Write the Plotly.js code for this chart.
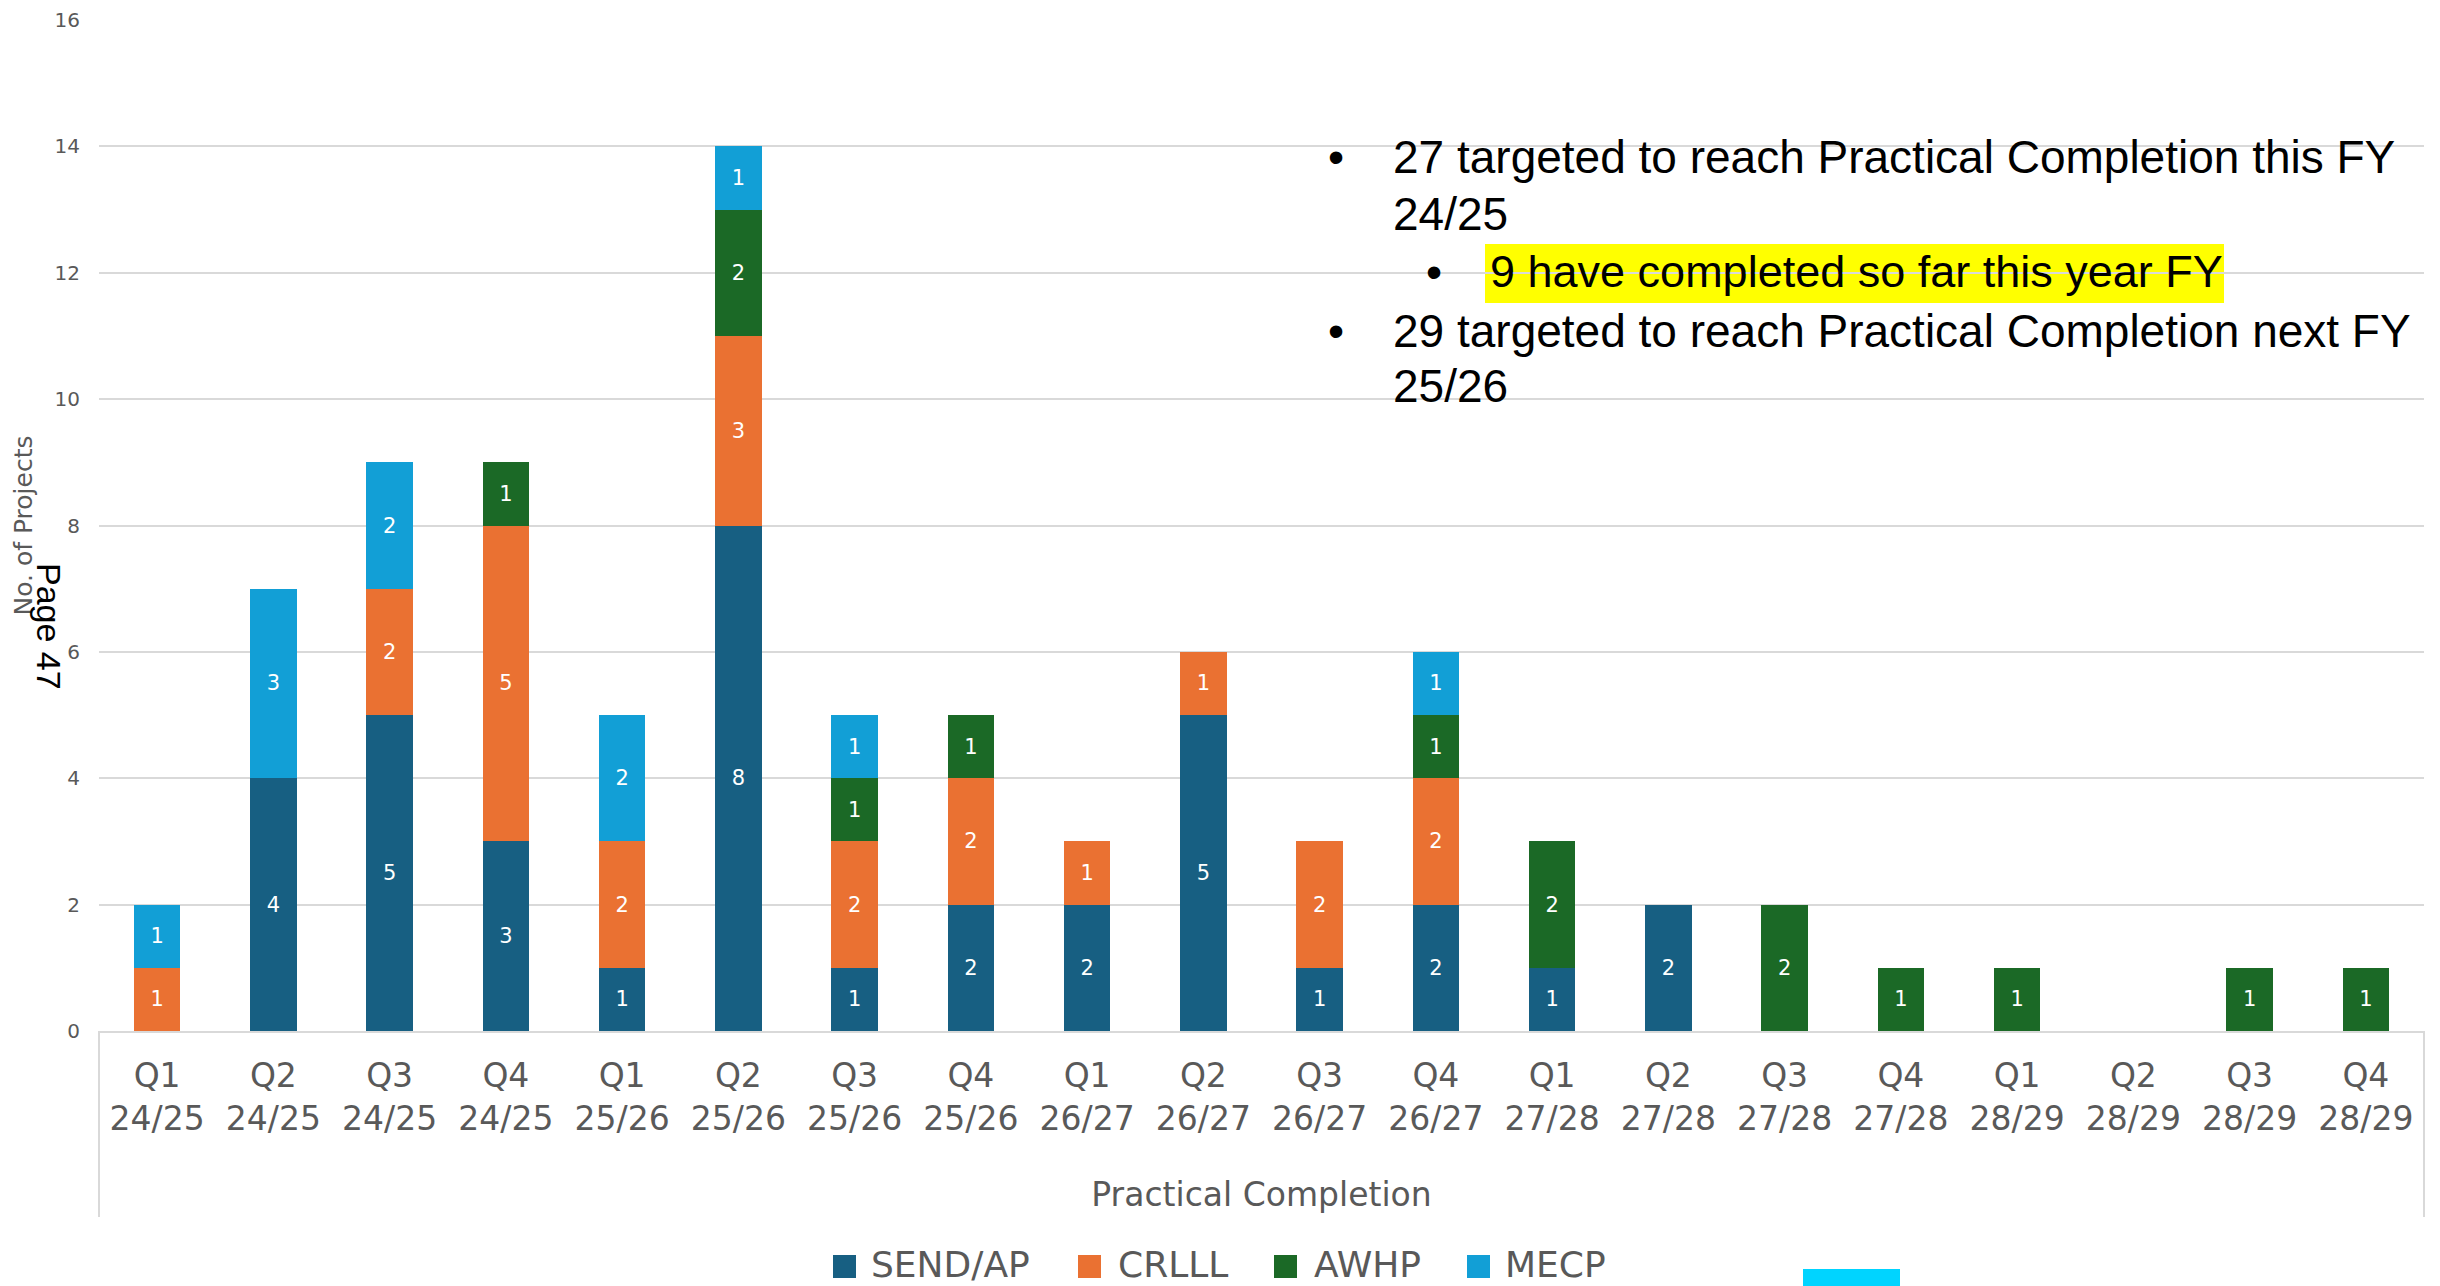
<!DOCTYPE html>
<html>
<head>
<meta charset="utf-8">
<script src="https://cdn.plot.ly/plotly-3.0.1.min.js"></script>
<style>html,body{margin:0;padding:0;background:#fff;}#chart{width:2440px;height:1286px;}</style>
</head>
<body>
<div id="chart"></div>
<script>
// ---- Data ----
const quarters = ['Q1','Q2','Q3','Q4','Q1','Q2','Q3','Q4','Q1','Q2','Q3','Q4','Q1','Q2','Q3','Q4','Q1','Q2','Q3','Q4'];
const years = ['24/25','24/25','24/25','24/25','25/26','25/26','25/26','25/26','26/27','26/27','26/27','26/27','27/28','27/28','27/28','27/28','28/29','28/29','28/29','28/29'];
const sendAP = [0,4,5,3,1,8,1,2,2,5,1,2,1,2,0,0,0,0,0,0];
const crlll  = [1,0,2,5,2,3,2,2,1,1,2,2,0,0,0,0,0,0,0,0];
const awhp   = [0,0,0,1,0,2,1,1,0,0,0,1,2,0,2,1,1,0,1,1];
const mecp   = [1,3,2,0,2,1,1,0,0,0,0,1,0,0,0,0,0,0,0,0];
const seriesNames = ['SEND/AP','CRLLL','AWHP','MECP'];
const yTicks = [0,2,4,6,8,10,12,14,16];
const notes = [
  '27 targeted to reach Practical Completion this FY',
  '24/25',
  '9 have completed so far this year FY',
  '29 targeted to reach Practical Completion next FY',
  '25/26'
];

// ---- Build ----
const categories = quarters.map((q,i)=> q + '<br>' + years[i]);
const colors = ['#175F82','#EA7132','#1B6926','#129FD6'];
const seriesVals = [sendAP, crlll, awhp, mecp];

const traces = seriesVals.map((vals, k) => ({
  type: 'bar',
  name: seriesNames[k],
  x: categories,
  y: vals,
  text: vals.map(v => v ? String(v) : ''),
  textposition: 'inside',
  insidetextanchor: 'middle',
  textangle: 0,
  constraintext: 'none',
  textfont: {family: 'DejaVu Sans', size: 21, color: '#FFFFFF'},
  marker: {color: colors[k], line: {width: 0}},
  hoverinfo: 'skip',
  showlegend: false
}));

// pixel -> paper helpers (plot area: x 99..2424, y 20..1031)
const PL = 99, PR = 2424, PT = 20, PB = 1031;
const xp = px => (px - PL) / (PR - PL);
const yp = py => (PB - py) / (PB - PT);

const noteSizes = [46, 46, 45, 46, 46];
const noteX = [1391, 1391, 1488, 1391, 1391];
const noteY = [157, 214, 272, 331, 386];
const annotations = notes.map((t,i) => ({
  xref: 'paper', yref: 'paper', x: xp(noteX[i]), y: yp(noteY[i]),
  xanchor: 'left', yanchor: 'middle', text: t, showarrow: false,
  font: {family: 'Liberation Sans, Arial, sans-serif', size: noteSizes[i], color: '#000000'}
}));
[[1336,157],[1434,272],[1336,331]].forEach(b => annotations.push({
  xref: 'paper', yref: 'paper', x: xp(b[0]), y: yp(b[1]),
  xanchor: 'center', yanchor: 'middle', text: '•', showarrow: false,
  font: {family: 'Liberation Sans, Arial, sans-serif', size: 46, color: '#000000'}
}));
annotations.push({
  xref: 'paper', yref: 'paper', x: xp(49), y: yp(627), xanchor: 'center', yanchor: 'middle',
  text: 'Page 47', textangle: 90, showarrow: false,
  font: {family: 'Liberation Sans, Arial, sans-serif', size: 34, color: '#000000'}
});

const shapes = [
  {type:'rect', xref:'paper', yref:'paper', x0: xp(1485), x1: xp(2224), y0: yp(303), y1: yp(244),
   fillcolor:'#FFFF00', line:{width:0}, layer:'below'},
  {type:'line', xref:'paper', yref:'paper', x0: 0, x1: 0, y0: 0, y1: yp(1217), line:{color:'#D9D9D9', width:2}},
  {type:'line', xref:'paper', yref:'paper', x0: 1, x1: 1, y0: 0, y1: yp(1217), line:{color:'#D9D9D9', width:2}},
  {type:'rect', xref:'paper', yref:'paper', x0: xp(1803), x1: xp(1900), y0: yp(1290), y1: yp(1269),
   fillcolor:'#00D4FF', line:{width:0}}
];

// legend (drawn as key squares + labels)
const legMarkX = [833, 1078, 1274, 1467];
const legTextX = [869, 1116, 1312, 1503];
seriesNames.forEach((n, k) => {
  shapes.push({type:'rect', xref:'paper', yref:'paper',
    x0: xp(legMarkX[k]), x1: xp(legMarkX[k] + 23), y0: yp(1278), y1: yp(1255),
    fillcolor: colors[k], line: {width: 0}});
  annotations.push({xref:'paper', yref:'paper', x: xp(legTextX[k]), y: yp(1264),
    xanchor:'left', yanchor:'middle', text: n, showarrow: false,
    font: {family: 'DejaVu Sans', size: 36, color: '#595959'}});
});

const layout = {
  width: 2440, height: 1286,
  margin: {l: PL, r: 2440 - PR, t: PT, b: 1286 - PB, autoexpand: false},
  paper_bgcolor: '#FFFFFF', plot_bgcolor: '#FFFFFF',
  barmode: 'stack', bargap: 0.6,
  font: {family: 'DejaVu Sans', color: '#595959'},
  showlegend: false,
  xaxis: {
    type: 'category', automargin: false,
    tickfont: {family: 'DejaVu Sans', size: 33, color: '#595959'},
    showline: true, linecolor: '#D9D9D9', linewidth: 2, ticks: '',
    showgrid: false, ticklabelstandoff: 14,
    title: {text: 'Practical Completion', font: {family: 'DejaVu Sans', size: 33, color: '#595959'}, standoff: 46}
  },
  yaxis: {
    range: [0, 16], tickvals: yTicks, automargin: false,
    gridcolor: '#D9D9D9', gridwidth: 2, zeroline: false, showline: false, ticks: '',
    tickfont: {family: 'DejaVu Sans', size: 20, color: '#595959'},
    ticklabelstandoff: 18,
    title: {text: 'No. of Projects', font: {family: 'DejaVu Sans', size: 25, color: '#595959'}, standoff: 14}
  },
  annotations: annotations,
  shapes: shapes
};

Plotly.newPlot('chart', traces, layout, {staticPlot: true, displayModeBar: false});
</script>
</body>
</html>
